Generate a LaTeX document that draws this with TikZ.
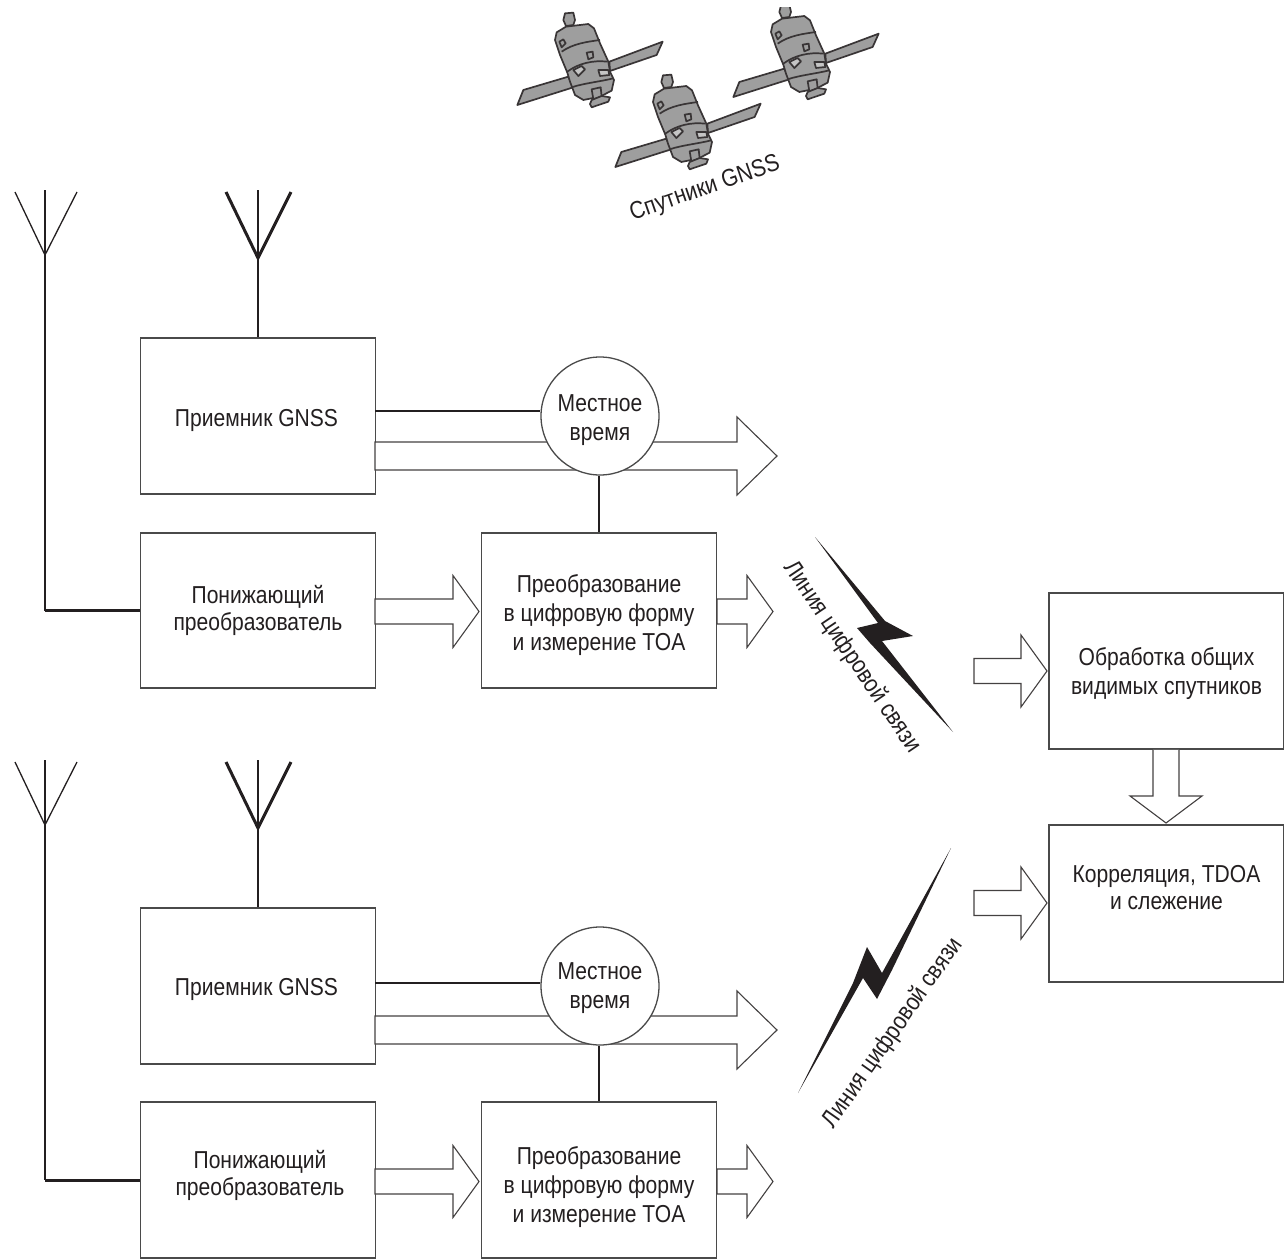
\documentclass[tikz,border=0pt]{standalone}
\usepackage{fontspec}
\setmainfont{Liberation Sans}[FakeStretch=0.86]
\usetikzlibrary{calc}
\definecolor{ink}{HTML}{231F20}
\definecolor{rim}{HTML}{4A4A4A}
\definecolor{hull}{gray}{0.62}
\newcommand{\hollowright}[5]{% start, tip, half shaft, half head, head length
  \draw[hollow] ($(#1)+(0,-#3)$) -- ($(#2)+(-#5,-#3)$) -- ($(#2)+(-#5,-#4)$) -- (#2)
    -- ($(#2)+(-#5,#4)$) -- ($(#2)+(-#5,#3)$) -- ($(#1)+(0,#3)$) -- cycle;}
\tikzset{
  x=1pt,y=-1pt,
  every node/.style={text=ink,font=\fontsize{24.5}{29}\selectfont},
  caption/.style={align=center,inner sep=0pt},
  tightcaption/.style={align=center,inner sep=0pt,font=\fontsize{24.5}{27}\selectfont},
  blockbox/.style={draw=rim,line width=1.5pt,fill=white,inner sep=0pt,
    minimum width=235pt,minimum height=156pt},
  clock/.style={circle,draw=rim,line width=1.3pt,fill=white,inner sep=0pt,minimum size=118pt},
  hollow/.style={draw=ink!85,line width=1.1pt,fill=white,line join=miter},
  wire/.style={draw=ink,line width=2.2pt},
  mast/.style={draw=ink,line width=2pt},
  bolt/.style={fill=ink,draw=none},
  satellite/.pic={
    \begin{scope}[draw=ink!90,line width=1.7pt,line join=round,fill=hull]
      \filldraw (298,185) -- (458,125) -- (440,165) -- (300,213) -- cycle;
      \filldraw (175,230) -- (40,270) -- (22,315) -- (190,262) -- cycle;
      \filldraw (165,40) -- (190,38) -- (195,60) -- (190,75) -- (168,78) -- (160,60) -- cycle;
      \filldraw (135,120) -- (140,97) -- (168,80) -- (235,72) -- (252,85) -- (270,130) -- (295,185)
        -- (300,215) -- (312,240) -- (305,272) -- (270,290) -- (220,300) -- (195,285) -- (180,245)
        -- (172,218) -- (150,165) -- cycle;
      \filldraw (245,268) -- (272,262) -- (275,290) -- (250,298) -- cycle;
      \filldraw (240,312) -- (245,300) -- (275,288) -- (300,292) -- (295,305) -- (245,322) -- cycle;
      \draw (155,155) .. controls (190,130) and (235,125) .. (270,120);
      \draw (172,215) .. controls (205,190) and (250,180) .. (292,185);
      \draw (185,262) .. controls (220,250) and (270,245) .. (310,235);
      \draw (148,125) -- (160,118) -- (167,130) -- (155,142) -- cycle;
      \draw (230,158) -- (248,155) -- (250,172) -- (235,178) -- cycle;
      \filldraw[fill=hull!60] (190,210) -- (215,198) -- (225,208) -- (205,228) -- cycle;
      \filldraw[fill=hull!60] (265,210) -- (295,210) -- (298,225) -- (270,228) -- cycle;
    \end{scope}
  }
}
\begin{document}
\begin{tikzpicture}
\useasboundingbox (0,0) rectangle (1284,1258);

% orbiting satellites
\pic[scale=0.3333] at (510,0) {satellite};
\pic[scale=0.3333] at (608,62) {satellite};
\begin{scope}
  \clip (700,7) rectangle (900,120);
  \pic[scale=0.3333] at (726,-8) {satellite};
\end{scope}
\node[rotate=19] (satlabel) at (705,189) {Спутники GNSS};

% upper station
\node[blockbox] (rec1) at (258,416) {};
\node[blockbox,minimum height=155pt] (down1) at (258,610.5) {};
\node[blockbox,minimum height=155pt] (dig1) at (599,610.5) {};
\node[caption] (rec1text) at (256.5,420) {Приемник GNSS};
\node[tightcaption] (down1text) at (258,610.5) {Понижающий\\преобразователь};
\node[caption] (dig1text) at (599,615) {Преобразование\\в цифровую форму\\и измерение TOA};

\coordinate (ant1) at (45,255);
\coordinate (ant1top) at (45,190);
\coordinate (ant1l) at (15,192);
\coordinate (ant1r) at (77,192);
\coordinate (ant2) at (258,258);
\coordinate (ant2top) at (258,190);
\coordinate (ant2l) at (226,192);
\coordinate (ant2r) at (291,192);
\draw[mast] (ant1top) -- (ant1);
\draw[ink,line width=1.3pt] (ant1l) -- (ant1) -- (ant1r);
\draw[mast] (ant1) -- (down1.west -| ant1);
\draw[ink,line width=3pt] (down1.west -| ant1) -- (down1.west);
\draw[mast] (ant2top) -- (rec1.north);
\draw[ink,line width=3pt] (ant2l) -- (ant2) -- (ant2r);

\coordinate (fat1s) at (375,456);
\coordinate (fat1t) at (777,456);
\hollowright{fat1s}{fat1t}{14}{39}{40}
\node[clock] (clock1) at (600,416) {};
\node[caption] (clock1text) at (600,420) {Местное\\время};
\coordinate (tap1) at (375,411);
\draw[wire] (tap1) -- (clock1.west |- tap1);
\draw[wire] (clock1.south -| dig1.north) -- (dig1.north);

\coordinate (a1s) at (375,611.5);
\coordinate (a1t) at (479,611.5);
\hollowright{a1s}{a1t}{12.5}{36}{26}
\coordinate (b1s) at (717,611.5);
\coordinate (b1t) at (773,611.5);
\hollowright{b1s}{b1t}{12.5}{36}{26}

% lower station
\node[blockbox] (rec2) at (258,986) {};
\node[blockbox] (down2) at (258,1180) {};
\node[blockbox] (dig2) at (599,1180) {};
\node[caption] (rec2text) at (256.5,989) {Приемник GNSS};
\node[tightcaption] (down2text) at (260,1175) {Понижающий\\преобразователь};
\node[caption] (dig2text) at (599,1187) {Преобразование\\в цифровую форму\\и измерение TOA};

\coordinate (ant3) at (45,825);
\coordinate (ant3top) at (45,760);
\coordinate (ant3l) at (15,762);
\coordinate (ant3r) at (77,762);
\coordinate (ant4) at (258,828);
\coordinate (ant4top) at (258,760);
\coordinate (ant4l) at (226,762);
\coordinate (ant4r) at (291,762);
\draw[mast] (ant3top) -- (ant3);
\draw[ink,line width=1.3pt] (ant3l) -- (ant3) -- (ant3r);
\draw[mast] (ant3) -- (down2.west -| ant3);
\draw[ink,line width=3pt] (down2.west -| ant3) -- (down2.west);
\draw[mast] (ant4top) -- (rec2.north);
\draw[ink,line width=3pt] (ant4l) -- (ant4) -- (ant4r);

\coordinate (fat2s) at (375,1030);
\coordinate (fat2t) at (777,1030);
\hollowright{fat2s}{fat2t}{14}{39}{40}
\node[clock] (clock2) at (600,986) {};
\node[caption] (clock2text) at (600,988) {Местное\\время};
\coordinate (tap2) at (375,983);
\draw[wire] (tap2) -- (clock2.west |- tap2);
\draw[wire] (clock2.south -| dig2.north) -- (dig2.north);

\coordinate (a2s) at (375,1181.5);
\coordinate (a2t) at (479,1181.5);
\hollowright{a2s}{a2t}{12.5}{36}{26}
\coordinate (b2s) at (717,1181.5);
\coordinate (b2t) at (773,1181.5);
\hollowright{b2s}{b2t}{12.5}{36}{26}

% radio links
\fill[bolt] (815,537) -- (885,621) -- (913,636) -- (882,641) -- (953,732) -- (870,643) -- (857,628) -- (878,623) -- cycle;
\node[rotate=-56] (link1) at (852,657) {Линия цифровой связи};
\fill[bolt] (951,848) -- (882,973) -- (867,947) -- (853,983) -- (798,1093) -- (863,978) -- (877,999) -- (892,970) -- cycle;
\node[rotate=55] (link2) at (893,1033) {Линия цифровой связи};

% central processing
\node[blockbox,minimum height=156pt] (common) at (1166.5,671) {};
\node[blockbox,minimum height=157pt] (corr) at (1166.5,903.5) {};
\node[caption] (commontext) at (1166.5,674) {Обработка общих\\видимых спутников};
\node[tightcaption] (corrtext) at (1166.5,888) {Корреляция, TDOA\\и слежение};

\coordinate (c1s) at (974,671);
\coordinate (c1t) at (1047,671);
\hollowright{c1s}{c1t}{12.5}{36}{26}
\coordinate (c2s) at (974,903);
\coordinate (c2t) at (1047,903);
\hollowright{c2s}{c2t}{12.5}{36}{26}
\draw[hollow] (common.south -| 1153,0) -- (1153,796) -- (1130,796) -- (1166,823) -- (1202,796) -- (1179,796) -- (common.south -| 1179,0);
\end{tikzpicture}
\end{document}
